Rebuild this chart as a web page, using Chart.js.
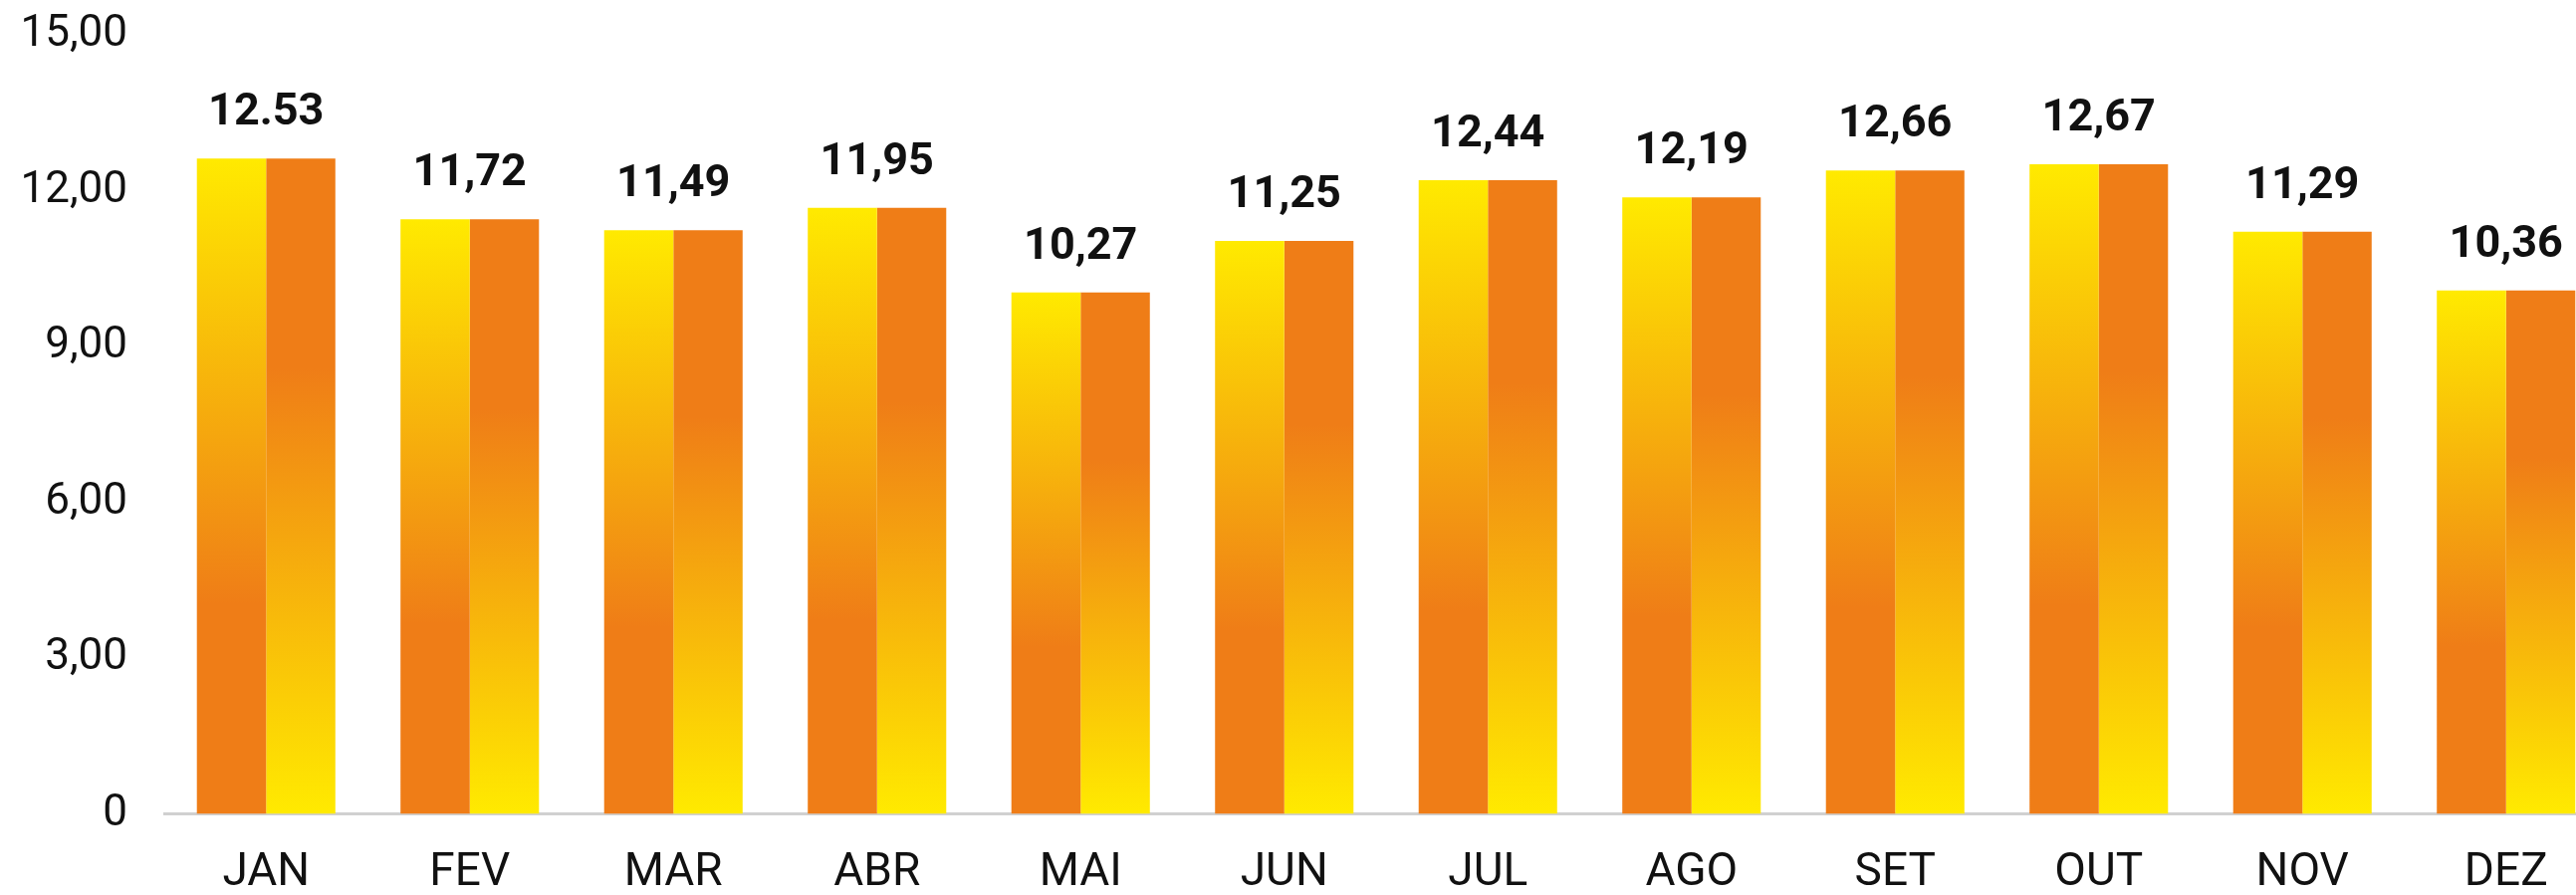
<!DOCTYPE html>
<html>
<head>
<meta charset="utf-8">
<script src="https://cdn.jsdelivr.net/npm/chart.js@4.4.1/dist/chart.umd.min.js"></script>
<style>
	html, body { margin: 0; padding: 0; background: #ffffff; overflow: hidden; }
	#wrap { position: relative; width: 2619px; height: 899px; }
</style>
</head>
<body>
<div id="wrap"><canvas id="main_chart"></canvas></div>
<script>
const months = ["JAN", "FEV", "MAR", "ABR", "MAI", "JUN", "JUL", "AGO", "SET", "OUT", "NOV", "DEZ"];
const barValues = [12.62, 11.45, 11.24, 11.67, 10.04, 11.03, 12.20, 11.87, 12.39, 12.51, 11.21, 10.08];
const valueLabels = ["12.53", "11,72", "11,49", "11,95", "10,27", "11,25", "12,44", "12,19", "12,66", "12,67", "11,29", "10,36"];
const yTickLabels = ["0", "3,00", "6,00", "9,00", "12,00", "15,00"];

const YELLOW = "#FFEA00";
const ORANGE = "#EF7D17";

function barGradient(stops) {
	return function (context) {
		const chart = context.chart;
		if (!chart.chartArea || context.type !== 'data') return stops[0][1];
		const y = chart.scales.y;
		const top = y.getPixelForValue(context.raw);
		const bottom = y.getPixelForValue(0);
		const g = chart.ctx.createLinearGradient(0, top, 0, bottom);
		stops.forEach(s => g.addColorStop(s[0], s[1]));
		return g;
	};
}

const valueLabelPlugin = {
	id: 'valueLabels',
	afterDatasetsDraw(chart) {
		const c = chart.ctx;
		const left = chart.getDatasetMeta(0).data;
		const right = chart.getDatasetMeta(1).data;
		c.save();
		c.font = "bold 45px Roboto";
		c.fillStyle = "#111111";
		c.textAlign = "center";
		c.textBaseline = "alphabetic";
		for (let i = 0; i < left.length; i++) {
			const x = (left[i].x + right[i].x) / 2;
			c.fillText(valueLabels[i], x, left[i].y - 34);
		}
		c.restore();
	}
};

new Chart(document.getElementById('main_chart'), {
	type: 'bar',
	data: {
		labels: months,
		datasets: [
			{
				data: barValues,
				backgroundColor: barGradient([[0, YELLOW], [0.68, ORANGE], [1, ORANGE]]),
				borderWidth: 0,
			},
			{
				data: barValues,
				backgroundColor: barGradient([[0, ORANGE], [0.32, ORANGE], [1, YELLOW]]),
				borderWidth: 0,
			},
		],
	},
	options: {
		responsive: true,
		maintainAspectRatio: false,
		animation: false,
		categoryPercentage: 0.68,
		barPercentage: 1.0,
		layout: {
			padding: { top: 35, left: 0, right: 0, bottom: 0 },
		},
		plugins: {
			legend: { display: false },
			tooltip: { enabled: false },
		},
		scales: {
			x: {
				grid: {
					display: false,
					drawTicks: false,
				},
				border: {
					display: true,
					color: "#d0d0d0",
					width: 3,
				},
				ticks: {
					color: "#111111",
					padding: 37,
					font: { family: 'Roboto', size: 46, lineHeight: 1 },
				},
				afterFit(scale) {
					scale.height = 81.5;
				},
			},
			y: {
				min: 0,
				max: 15,
				grid: {
					display: false,
					drawTicks: false,
				},
				border: { display: false },
				ticks: {
					stepSize: 3,
					color: "#111111",
					padding: 37,
					font: { family: 'Roboto', size: 44 },
					callback: (value, index) => yTickLabels[index],
				},
				afterFit(scale) {
					// the tick padding is meant for the left gap only
					scale.width = 165;
					scale.paddingTop = 0;
					scale.paddingBottom = 0;
				},
			},
		},
	},
	plugins: [valueLabelPlugin],
});
</script>
</body>
</html>
